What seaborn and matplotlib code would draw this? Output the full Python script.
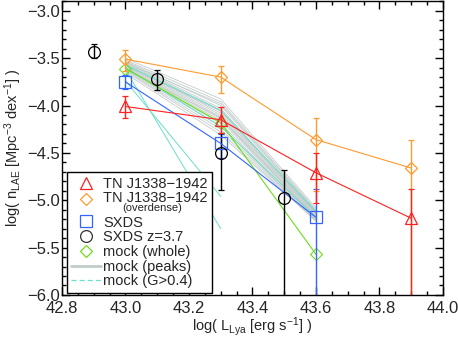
import matplotlib
matplotlib.use('Agg')
import matplotlib.pyplot as plt
from matplotlib.lines import Line2D
from matplotlib.ticker import MultipleLocator
import seaborn as sns
import numpy as np
import pandas as pd

sns.set_style('ticks')
plt.rcParams['font.family'] = ['Liberation Sans', 'DejaVu Sans']
plt.rcParams['mathtext.fontset'] = 'custom'
plt.rcParams['mathtext.rm'] = 'Liberation Sans'
plt.rcParams['mathtext.it'] = 'Liberation Sans:italic'

# TN J1338-1942
lum_tn = [43.0, 43.3, 43.6, 43.9]
n_tn = [-4.01, -4.15, -4.71, -5.19]
n_tn_hi = [-3.90, -4.02, -4.50, -4.88]
n_tn_lo = [-4.13, -4.29, -5.03, -7.0]

# TN J1338-1942 (overdense)
lum_od = [43.0, 43.3, 43.6, 43.9]
n_od = [-3.51, -3.70, -4.36, -4.66]
n_od_hi = [-3.41, -3.58, -4.13, -4.36]
n_od_lo = [-3.64, -3.87, -4.90, -7.0]

# SXDS
lum_sx = [43.0, 43.3, 43.6]
n_sx = [-3.75, -4.40, -5.18]
n_sx_hi = [-3.68, -4.30, -4.88]
n_sx_lo = [-3.83, -4.55, -7.0]

# SXDS z=3.7
lum_z37 = [42.9, 43.1, 43.3, 43.5]
n_z37 = [-3.43, -3.72, -4.50, -4.98]
n_z37_hi = [-3.35, -3.63, -4.29, -4.68]
n_z37_lo = [-3.50, -3.84, -4.89, -7.0]

# mock (whole)
lum_mock = [43.0, 43.3, 43.6]
n_mock = [-3.61, -4.18, -5.57]

# mock (peaks): one row per peak, values at lum_mock
peaks = [
    [-3.50, -3.93, -5.08], [-3.52, -3.96, -5.10], [-3.53, -4.00, -5.12],
    [-3.54, -4.03, -5.14], [-3.55, -4.05, -5.13], [-3.56, -4.08, -5.15],
    [-3.57, -4.10, -5.16], [-3.58, -4.12, -5.17], [-3.59, -4.14, -5.18],
    [-3.60, -4.16, -5.19], [-3.61, -4.19, -5.20], [-3.62, -4.22, -5.21],
    [-3.63, -4.25, -5.21], [-3.64, -4.28, -5.22], [-3.66, -4.31, -5.22],
    [-3.55, -3.98, -5.11], [-3.58, -4.06, -5.15], [-3.61, -4.13, -5.18],
]

# mock (G>0.4)
gpeaks = [
    [-3.62, -5.30, np.nan], [-3.74, -4.96, np.nan],
    [-3.57, -4.05, -5.12], [-3.60, -4.22, -5.18],
]

c_red = '#ff2020'
c_orange = '#ff9a2e'
c_blue = '#3366ff'
c_green = '#6ddc1e'
c_gray = '#c3cbcb'
c_cyan = '#6adfc9'

def to_long(rows):
    recs = []
    for i, r in enumerate(rows):
        for lx, v in zip(lum_mock, r):
            recs.append({'run': i, 'lum': lx, 'n': v})
    return pd.DataFrame(recs).dropna()

df_peaks = to_long(peaks)
df_g = to_long(gpeaks)

fig, ax = plt.subplots(figsize=(4.58, 3.39), dpi=100)
fig.subplots_adjust(left=0.1354, right=0.967, bottom=0.13, top=0.996)

sns.lineplot(data=df_peaks, x='lum', y='n', units='run', estimator=None,
             color=c_gray, lw=0.6, ax=ax, legend=False)
sns.lineplot(data=df_g, x='lum', y='n', units='run', estimator=None,
             color=c_cyan, lw=0.7, ax=ax, legend=False)

ax.plot(lum_mock, n_mock, '-D', color=c_green, mfc='none', ms=6, mew=0.8, lw=0.8)


def eb(x, y, hi, lo, fmt, color, ms):
    y = np.array(y)
    yerr = [y - np.array(lo), np.array(hi) - y]
    ax.errorbar(x, y, yerr=yerr, fmt=fmt, color=color, mfc='none', ms=ms,
                mew=0.9, lw=0.8, elinewidth=1.0, capsize=2.5, capthick=1.0)


eb(lum_sx, n_sx, n_sx_hi, n_sx_lo, '-s', c_blue, 8.5)
eb(lum_z37, n_z37, n_z37_hi, n_z37_lo, 'o', 'black', 8.5)
eb(lum_od, n_od, n_od_hi, n_od_lo, '-D', c_orange, 6)
eb(lum_tn, n_tn, n_tn_hi, n_tn_lo, '-^', c_red, 9)

ax.set_xlim(42.8, 44.0)
ax.set_ylim(-6.0, -2.9)
ax.xaxis.set_major_locator(MultipleLocator(0.2))
ax.xaxis.set_minor_locator(MultipleLocator(0.05))
ax.yaxis.set_major_locator(MultipleLocator(0.5))
ax.yaxis.set_minor_locator(MultipleLocator(0.1))
ax.tick_params(which='both', direction='in', top=True, right=True, width=1.0,
               color='black')
ax.tick_params(which='major', length=5.8, labelsize=12)
ax.tick_params(axis='x', which='major', pad=4.5)
ax.tick_params(axis='y', which='major', pad=1.5)
ax.tick_params(which='minor', length=3.2)
for s in ax.spines.values():
    s.set_linewidth(1.0)
    s.set_color('black')

ax.set_xlabel(r'log( L$_\mathregular{Lya}$ [erg s$^\mathregular{-1}$] )',
              fontsize=10.5, labelpad=-1)
ax.set_ylabel(r'log( n$_\mathregular{LAE}$ [Mpc$^\mathregular{-3}$ dex$^\mathregular{-1}$] )',
              fontsize=10.5, labelpad=2)

handles = [
    Line2D([], [], ls='none', marker='^', color=c_red, mfc='none', ms=9, mew=0.9),
    Line2D([], [], ls='none', marker='D', color=c_orange, mfc='none', ms=6, mew=0.9),
    Line2D([], [], ls='none', marker='s', color=c_blue, mfc='none', ms=8.5, mew=0.9),
    Line2D([], [], ls='none', marker='o', color='#333333', mfc='none', ms=8.5, mew=0.9),
    Line2D([], [], ls='none', marker='D', color=c_green, mfc='none', ms=6, mew=0.9),
    Line2D([], [], color=c_gray, lw=2.0),
    Line2D([], [], color=c_cyan, lw=0.9, ls=(0, (4, 2.5))),
]
labels = ['TN J1338\u22121942', 'TN J1338\u22121942\n', 'SXDS', 'SXDS z=3.7',
          'mock (whole)', 'mock (peaks)', 'mock (G>0.4)']
leg = ax.legend(handles, labels, loc='lower left', bbox_to_anchor=(0.013, 0.007),
                borderaxespad=0, fontsize=10.5, frameon=True, fancybox=False,
                edgecolor='black', framealpha=1, borderpad=0.3,
                labelspacing=0.05, handlelength=2.0, handletextpad=0.2)
leg.get_frame().set_linewidth(1.0)
leg.set_zorder(10)
t2 = leg.get_texts()[1]
t2.set_linespacing(0.58)
h2 = leg.legend_handles[1]
h2.set_ydata(np.asarray(h2.get_ydata()) + 3.0)
ax.annotate('(overdense)', xy=(0, 1), xycoords=t2, xytext=(13.7, -8.6),
            textcoords='offset points', va='top', ha='left', fontsize=8,
            zorder=11)

fig.savefig('out.png', dpi=100)
